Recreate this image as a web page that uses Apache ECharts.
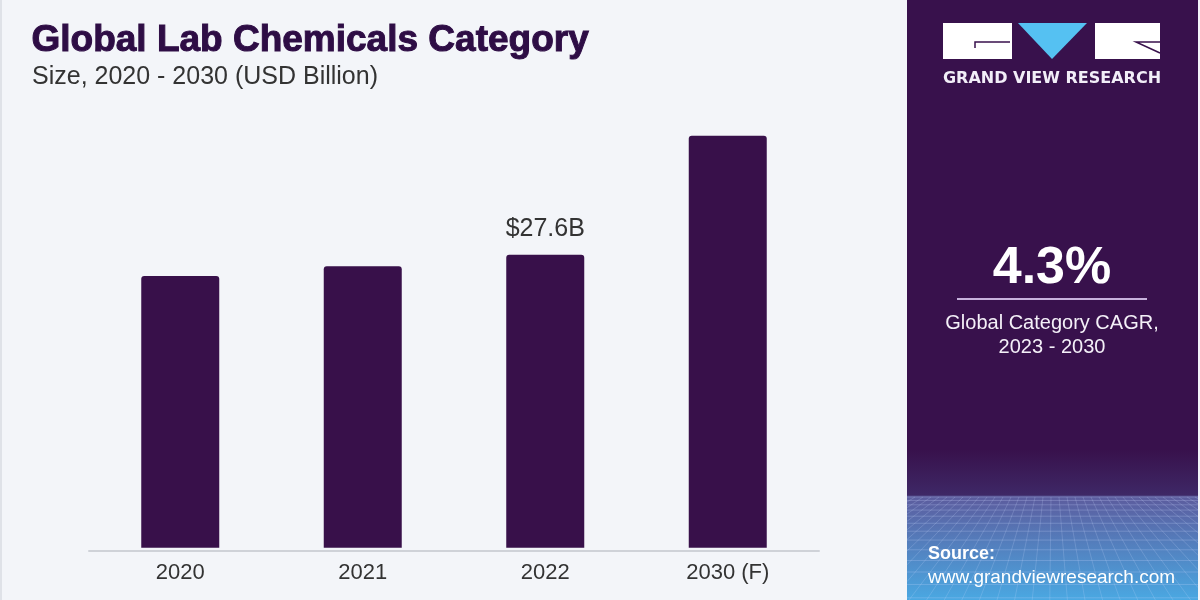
<!DOCTYPE html>
<html>
<head>
<meta charset="utf-8">
<script src="https://cdn.jsdelivr.net/npm/echarts@6/dist/echarts.min.js"></script>
<style>
html,body{margin:0;padding:0;background:#f3f5f9;}
#chart{width:1200px;height:600px;}
</style>
</head>
<body>
<div id="chart"></div>
<script>
const categories = ['2020', '2021', '2022', '2030 (F)'];
const marketSize = [25.6, 26.5, 27.6, 38.8];
const labelledIndex = 2;
const titleText = 'Global Lab Chemicals Category';
const subtitleText = 'Size, 2020 - 2030 (USD Billion)';
const cagrText = '4.3%';
const cagrLabel = 'Global Category CAGR,\n2023 - 2030';
const brandText = 'GRAND VIEW RESEARCH';
const sourceTitle = 'Source:';
const sourceUrl = 'www.grandviewresearch.com';

const SANS = '"Liberation Sans", Arial, sans-serif';
const BAR = '#38104a';
const PX0 = 907, PX1 = 1198;

const chart = echarts.init(document.getElementById('chart'), null, {renderer: 'canvas'});

// decorative perspective grid at the bottom of the side panel
function clipLine(x1, y1, x2, y2) {
  if (x2 < PX0) { const t = (PX0 - x1) / (x2 - x1); x2 = PX0; y2 = y1 + t * (y2 - y1); }
  if (x2 > PX1) { const t = (PX1 - x1) / (x2 - x1); x2 = PX1; y2 = y1 + t * (y2 - y1); }
  return {x1, y1, x2, y2};
}
const deco = [];
for (let i = 0; i < 14; i++) {
  const y = 497 + i * 3 + i * i * 0.45;
  if (y > 600) break;
  deco.push({type: 'line', shape: {x1: PX0, y1: y, x2: PX1, y2: y},
    style: {stroke: 'rgba(205,220,255,0.25)', lineWidth: 1}, silent: true});
}
for (let j = 0; j <= 36; j++) {
  const x = PX0 + j * 8;
  deco.push({type: 'line', shape: clipLine(x, 497, 1052 + (x - 1052) * 2.2, 600),
    style: {stroke: 'rgba(205,220,255,0.2)', lineWidth: 1}, silent: true});
}

chart.setOption({
  backgroundColor: '#f3f5f9',
  animation: false,
  grid: {left: 89, right: 381, top: 123, bottom: 49, containLabel: false},
  xAxis: {
    type: 'category',
    data: categories,
    axisLine: {onZero: false, lineStyle: {color: '#cfd2d8', width: 2}},
    axisTick: {show: false},
    axisLabel: {color: '#333333', fontSize: 22, fontFamily: SANS, margin: 11}
  },
  yAxis: {
    type: 'value',
    min: -0.3,
    max: 40,
    show: false,
    splitLine: {show: false}
  },
  series: [{
    type: 'bar',
    data: marketSize.map((v, i) => ({
      value: v,
      label: i === labelledIndex ? {show: true} : {show: false}
    })),
    barWidth: 78,
    itemStyle: {color: BAR, borderRadius: [3, 3, 0, 0]},
    label: {
      position: 'top',
      distance: 13,
      color: '#333333',
      fontSize: 25,
      fontFamily: SANS,
      formatter: p => '$' + p.value.toFixed(1) + 'B'
    }
  }],
  graphic: [
    {type: 'rect', shape: {x: 0, y: 0, width: 2, height: 600}, style: {fill: '#dfe2e8'}, silent: true},
    {type: 'text', left: 31, top: 22,
      style: {text: titleText, fill: '#2e0d45', fontSize: 37, fontWeight: 'bold',
        fontFamily: SANS, stroke: '#2e0d45', lineWidth: 1}},
    {type: 'text', left: 32, top: 65,
      style: {text: subtitleText, fill: '#333333', fontSize: 25, fontFamily: SANS}},
    // side panel
    {type: 'rect', shape: {x: PX0, y: 0, width: PX1 - PX0, height: 600},
      style: {fill: new echarts.graphic.LinearGradient(0, 0, 0, 1, [
        {offset: 0, color: '#38114c'},
        {offset: 0.75, color: '#38114c'},
        {offset: 0.825, color: '#3e2866'},
        {offset: 0.828, color: '#5c5c9e'},
        {offset: 1, color: '#4aa8e2'}
      ])}, silent: true},
    ...deco,
    // logo
    {type: 'rect', shape: {x: 943, y: 23, width: 69, height: 36}, style: {fill: '#ffffff'}, silent: true},
    {type: 'polyline', shape: {points: [[975, 48], [975, 42], [1010, 42]]}, style: {stroke: '#38114c', lineWidth: 1.5, fill: null}, silent: true},
    {type: 'polygon', shape: {points: [[1018, 23], [1087, 23], [1052, 59]]}, style: {fill: '#55c1f2'}, silent: true},
    {type: 'rect', shape: {x: 1095, y: 23, width: 65, height: 36}, style: {fill: '#ffffff'}, silent: true},
    {type: 'polyline', shape: {points: [[1160, 42], [1136, 42], [1160, 53]]}, style: {stroke: '#38114c', lineWidth: 1.5, fill: null}, silent: true},
    {type: 'text', x: 1052, y: 79,
      style: {text: brandText, fill: '#f2eef8', fontSize: 16, fontWeight: 'bold', align: 'center', verticalAlign: 'middle',
        fontFamily: '"DejaVu Sans", sans-serif'}},
    {type: 'text', x: 1052, y: 269,
      style: {text: cagrText, fill: '#ffffff', fontSize: 52, fontWeight: 'bold', align: 'center', verticalAlign: 'middle',
        fontFamily: SANS}},
    {type: 'rect', shape: {x: 957, y: 298, width: 190, height: 2}, style: {fill: '#c7b2dc'}, silent: true},
    {type: 'text', x: 1052, y: 335,
      style: {text: cagrLabel, fill: '#f4f0f8', fontSize: 20, lineHeight: 24, align: 'center', verticalAlign: 'middle',
        fontFamily: SANS}},
    {type: 'text', x: 928, y: 554,
      style: {text: sourceTitle, fill: '#ffffff', fontSize: 18, fontWeight: 'bold', verticalAlign: 'middle',
        fontFamily: SANS}},
    {type: 'text', x: 928, y: 578,
      style: {text: sourceUrl, fill: '#ffffff', fontSize: 19, verticalAlign: 'middle',
        fontFamily: SANS}}
  ]
});
</script>
</body>
</html>
